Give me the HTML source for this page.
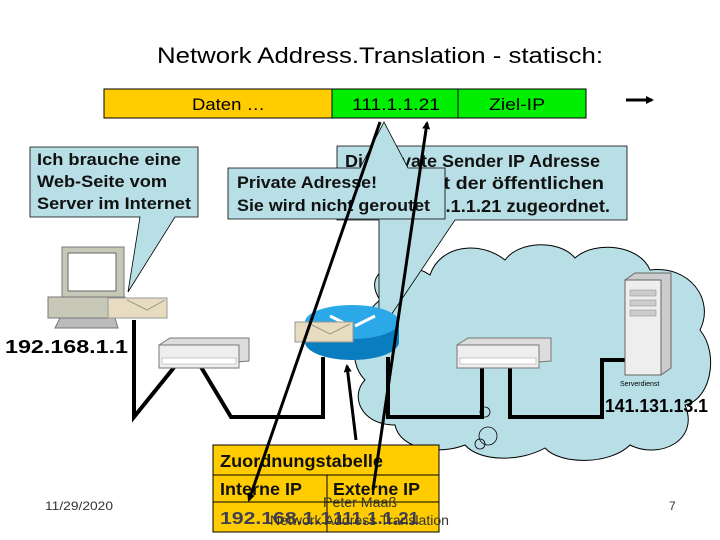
<!DOCTYPE html>
<html><head><meta charset="utf-8"><style>
html,body{margin:0;padding:0;background:#fff;}
svg{display:block;font-family:"Liberation Sans",Arial,sans-serif;}
</style></head><body>
<svg width="720" height="540" viewBox="0 0 720 540" xmlns="http://www.w3.org/2000/svg">
<defs>
<marker id="ah" markerWidth="8" markerHeight="8" refX="6" refY="4" orient="auto" markerUnits="userSpaceOnUse"><path d="M0,0 L8,4 L0,8 z" fill="#000"/></marker>
</defs>
<text x="157" y="63" font-size="22" textLength="446" lengthAdjust="spacingAndGlyphs">Network Address.Translation - statisch:</text>
<!-- packet bar -->
<rect x="104" y="89" width="228" height="29" fill="#ffcc00" stroke="#000"/>
<rect x="332" y="89" width="254" height="29" fill="#00ee00" stroke="#000"/>
<line x1="458" y1="89" x2="458" y2="118" stroke="#000"/>
<text x="192" y="110" font-size="17" textLength="73" lengthAdjust="spacingAndGlyphs">Daten …</text>
<text x="352" y="110" font-size="17" textLength="88" lengthAdjust="spacingAndGlyphs">111.1.1.21</text>
<text x="489" y="110" font-size="17" textLength="56" lengthAdjust="spacingAndGlyphs">Ziel-IP</text>
<line x1="626" y1="100" x2="652" y2="100" stroke="#000" stroke-width="3" marker-end="url(#ah)"/>
<!-- cloud -->
<g fill="#b8dfe6" stroke="#000" stroke-width="1">
<path d="M380,300 C360,270 400,255 430,275 C440,245 480,240 505,260 C520,240 560,240 575,258 C595,240 640,245 650,270 C690,265 715,300 700,330 C720,355 710,400 685,405 C700,440 660,460 630,445 C610,465 560,465 545,448 C520,462 480,462 465,445 C440,455 400,450 395,425 C360,425 350,395 365,380 C345,360 355,320 380,300 z"/>
</g>
<circle cx="488" cy="436" r="9" fill="none" stroke="#000" stroke-width="0.8"/>
<circle cx="480" cy="444" r="5" fill="none" stroke="#000" stroke-width="0.8"/>
<circle cx="485" cy="412" r="5" fill="none" stroke="#000" stroke-width="0.8"/>
<!-- left callout -->
<path d="M30,147 H198 V217 H175 L128,292 L140,217 H30 z" fill="#b8dfe6" stroke="#000" stroke-width="0.8"/>
<g font-size="16.5" font-weight="bold" fill="#111">
<text x="37" y="165" textLength="144" lengthAdjust="spacingAndGlyphs">Ich brauche eine</text>
<text x="37" y="187" textLength="130" lengthAdjust="spacingAndGlyphs">Web-Seite vom</text>
<text x="37" y="209" textLength="154" lengthAdjust="spacingAndGlyphs">Server im Internet</text>
</g>
<!-- big callout -->
<path d="M337,146 H627 V220 H455 L379,333 L379,220 H337 z" fill="#b8dfe6" stroke="#000" stroke-width="0.8"/>
<g font-size="17.5" font-weight="bold" fill="#111">
<text x="345" y="167" textLength="255" lengthAdjust="spacingAndGlyphs">Die private Sender IP Adresse</text>
<text x="427" y="189" textLength="177" lengthAdjust="spacingAndGlyphs">ist der öffentlichen</text>
<text x="417" y="212" textLength="193" lengthAdjust="spacingAndGlyphs">111.1.1.21 zugeordnet.</text>
</g>
<!-- private callout -->
<path d="M228,168 H360 L384,122 L408,168 H445 V219 H228 z" fill="#b8dfe6" stroke="#000" stroke-width="0.8"/>
<g font-size="16.5" font-weight="bold" fill="#111">
<text x="237" y="188" textLength="140" lengthAdjust="spacingAndGlyphs">Private Adresse!</text>
<text x="237" y="211" textLength="193" lengthAdjust="spacingAndGlyphs">Sie wird nicht geroutet</text>
</g>
<!-- PC -->
<rect x="62" y="247" width="62" height="50" fill="#c8c8b8" stroke="#777"/>
<rect x="68" y="253" width="48" height="38" fill="#fff" stroke="#666"/>
<polygon points="48,297 125,297 125,318 48,318" fill="#c8c8b8" stroke="#777"/>
<polygon points="60,318 115,318 118,328 55,328" fill="#bbb" stroke="#777"/>
<rect x="108" y="298" width="59" height="20" fill="#e8dcc0" stroke="#999"/>
<polyline points="127,300 147,310 165,300" fill="none" stroke="#998"/>
<text x="5" y="353" font-size="18" font-weight="bold" textLength="123" lengthAdjust="spacingAndGlyphs">192.168.1.1</text>
<!-- lines -->
<g stroke="#000" stroke-width="4" fill="none">
<polyline points="134,320 134,417 180,360"/>
<polyline points="198,362 231,417 323,417 323,357"/>
<polyline points="388,357 388,417 482,417 482,362"/>
<polyline points="510,362 510,417 602,417 602,360 628,360"/>
</g>
<!-- hub1 -->
<polygon points="159,345 170,338 249,338 249,361 159,368" fill="#ddd" stroke="#777"/>
<rect x="159" y="345" width="80" height="23" fill="#eee" stroke="#777"/>
<rect x="162" y="358" width="74" height="6" fill="#fff" stroke="#999" stroke-width="0.5"/>
<!-- router -->
<ellipse cx="352" cy="342" rx="47" ry="18" fill="#0a7cc0"/>
<rect x="305" y="322" width="94" height="20" fill="#0a7cc0"/>
<ellipse cx="352" cy="322" rx="47" ry="17" fill="#2aa8e8"/>
<g stroke="#fff" stroke-width="3"><line x1="330" y1="316" x2="350" y2="326"/><line x1="375" y1="316" x2="355" y2="326"/></g>
<rect x="295" y="322" width="58" height="20" fill="#e8dcc0" stroke="#999"/>
<polyline points="310,324 330,334 350,324" fill="none" stroke="#998"/>
<!-- hub2 -->
<polygon points="457,345 468,338 551,338 551,361 457,368" fill="#ddd" stroke="#777"/>
<rect x="457" y="345" width="82" height="23" fill="#eee" stroke="#777"/>
<rect x="460" y="358" width="76" height="6" fill="#fff" stroke="#999" stroke-width="0.5"/>
<!-- server -->
<polygon points="625,280 635,273 671,273 671,368 661,375 625,375" fill="#ccc" stroke="#666"/>
<rect x="625" y="280" width="36" height="95" fill="#eee" stroke="#666"/>
<rect x="630" y="290" width="26" height="6" fill="#ccc" stroke="#888" stroke-width="0.5"/>
<rect x="630" y="300" width="26" height="6" fill="#ccc" stroke="#888" stroke-width="0.5"/>
<rect x="630" y="310" width="26" height="6" fill="#ccc" stroke="#888" stroke-width="0.5"/>
<text x="620" y="386" font-size="7">Serverdienst</text>
<text x="605" y="412" font-size="18" font-weight="bold" textLength="103" lengthAdjust="spacingAndGlyphs">141.131.13.1</text>
<!-- table -->
<g stroke="#000" stroke-width="1">
<rect x="213" y="445" width="226" height="87" fill="#ffcc00"/>
<line x1="213" y1="475" x2="439" y2="475"/>
<line x1="213" y1="502" x2="439" y2="502"/>
<line x1="327" y1="475" x2="327" y2="532"/>
</g>
<g font-size="17.5" font-weight="bold">
<text x="220" y="467" fill="#111" textLength="163" lengthAdjust="spacingAndGlyphs">Zuordnungstabelle</text>
<text x="220" y="495" fill="#111" textLength="82" lengthAdjust="spacingAndGlyphs">Interne IP</text>
<text x="333" y="495" fill="#111" textLength="87" lengthAdjust="spacingAndGlyphs">Externe IP</text>
<text x="220" y="524" fill="#404050" textLength="112" lengthAdjust="spacingAndGlyphs">192.168.1.1</text>
<text x="333" y="524" fill="#404050" textLength="86" lengthAdjust="spacingAndGlyphs">111.1.1.21</text>
</g>
<!-- arrows lines -->
<line x1="380" y1="122" x2="249" y2="500" stroke="#000" stroke-width="3" marker-end="url(#ah)"/>
<line x1="373" y1="490" x2="427" y2="123" stroke="#000" stroke-width="3" marker-end="url(#ah)"/>
<line x1="356" y1="440" x2="347" y2="366" stroke="#000" stroke-width="3" marker-end="url(#ah)"/>
<!-- footer -->
<text x="45" y="510" font-size="12" fill="#333" textLength="68" lengthAdjust="spacingAndGlyphs">11/29/2020</text>
<text x="669" y="510" font-size="12" fill="#333">7</text>
<text x="323" y="507" font-size="14" fill="#333" textLength="74" lengthAdjust="spacingAndGlyphs">Peter Maaß</text>
<text x="270" y="525" font-size="14" fill="#333" textLength="179" lengthAdjust="spacingAndGlyphs">Network Address Translation</text>
</svg>
</body></html>
